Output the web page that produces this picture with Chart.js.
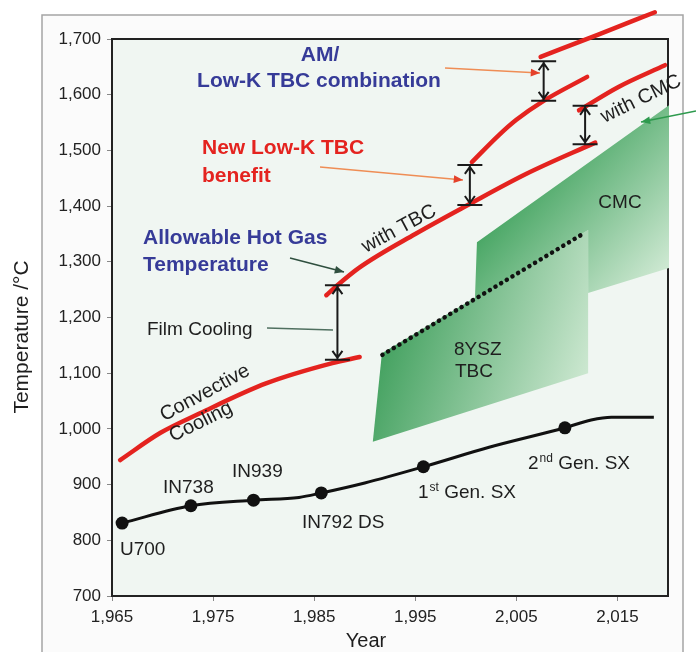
<!DOCTYPE html>
<html>
<head>
<meta charset="utf-8">
<script src="https://cdn.jsdelivr.net/npm/chart.js@4.4.1/dist/chart.umd.min.js"></script>
<style>
  body { margin: 0; background: #fff; }
  canvas { display: block; }
</style>
</head>
<body>
<canvas id="tempChart" width="696" height="652"></canvas>
<script>
// Turbine hot gas temperature vs. year
// ------------------------------
var xTickYears = [1965, 1975, 1985, 1995, 2005, 2015];

// superalloy capability (black curve + named points)
var alloyNames = ['U700', 'IN738', 'IN939', 'IN792 DS', '1st Gen. SX', '2nd Gen. SX'];
var alloyYears = [1966, 1972.8, 1979, 1985.7, 1995.8, 2009.8];
var alloyTemps = [831, 862, 872, 885, 932, 1002];
var trendYears = [1966, 1972.8, 1979, 1983.5, 1985.7, 1990, 1995.8, 2002.3, 2009.8, 2012.4, 2014.4, 2018.6];
var trendTemps = [831, 862, 872, 877, 885, 903, 932, 967, 1002, 1016, 1021, 1021];

// allowable gas temperature curves
var convYears = [1965.8, 1969.8, 1973.7, 1980.3, 1986.8, 1989.5];
var convTemps = [944, 993, 1028, 1082, 1118, 1129];
var tbcYears = [1986.2, 1987.3, 1989.5, 1995, 2000.2, 2006, 2012.8];
var tbcTemps = [1240, 1258, 1290, 1350, 1402, 1458, 1514];
var lowKYears = [2000.6, 2003.3, 2005, 2007.7, 2012];
var lowKTemps = [1479, 1528, 1555, 1589, 1632];
var cmcYears = [2011.2, 2015.1, 2019.7];
var cmcTemps = [1572, 1614, 1653];
var amYears = [2007.4, 2013.1, 2018.7];
var amTemps = [1668, 1708, 1748];

// 8YSZ trend (dotted)
var dotYears = [1991.75, 2011.85];
var dotTemps = [1133, 1353];

// shaded material zones
var yszZoneYears = [1990.8, 1991.7, 2012.1, 2012.1];
var yszZoneTemps = [977, 1136, 1357, 1100];
var cmcZoneYears = [2000.9, 2001.1, 2020.1, 2020.1, 2012.1, 2012.1];
var cmcZoneTemps = [1233, 1335, 1581, 1289, 1244, 1357];

// temperature gains (double arrows)
var gapYears = [1987.3, 2000.4, 2007.7, 2011.8];
var gapLow = [1124, 1402, 1589, 1511];
var gapHigh = [1258, 1474, 1660, 1580];

function pts(xs, ys) {
    return xs.map(function (x, i) { return {x: x, y: ys[i]}; });
}

var FONT = '"Liberation Sans", Arial, sans-serif';
var RED = '#e4231f';
var BLUE = '#363b98';

function arrow(c, x1, y1, x2, y2, col, head) {
    var ang = Math.atan2(y2 - y1, x2 - x1);
    c.strokeStyle = col; c.lineWidth = 1.6;
    c.beginPath(); c.moveTo(x1, y1); c.lineTo(x2, y2); c.stroke();
    c.fillStyle = head || col;
    c.beginPath();
    c.moveTo(x2, y2);
    c.lineTo(x2 - 10 * Math.cos(ang - 0.4), y2 - 10 * Math.sin(ang - 0.4));
    c.lineTo(x2 - 10 * Math.cos(ang + 0.4), y2 - 10 * Math.sin(ang + 0.4));
    c.closePath(); c.fill();
}

function rotText(c, txt, x, y, deg) {
    c.save();
    c.translate(x, y);
    c.rotate(deg * Math.PI / 180);
    c.fillText(txt, 0, 0);
    c.restore();
}

function zone(c, xs, ys, sx, sy, g0, g1, cols) {
    var g = c.createLinearGradient(g0[0], g0[1], g1[0], g1[1]);
    g.addColorStop(0, cols[0]); g.addColorStop(1, cols[1]);
    c.fillStyle = g;
    c.beginPath();
    xs.forEach(function (x, i) {
        var px = sx.getPixelForValue(x), py = sy.getPixelForValue(ys[i]);
        if (i === 0) c.moveTo(px, py); else c.lineTo(px, py);
    });
    c.closePath(); c.fill();
}

var annotate = {
    id: 'annotate',
    beforeDraw: function (chart) {
        var c = chart.ctx, a = chart.chartArea;
        c.save();
        c.fillStyle = '#fbfbfb';
        c.fillRect(42, 15, 641, 640);
        c.strokeStyle = '#a5a5a5'; c.lineWidth = 1.5;
        c.strokeRect(42, 15, 641, 660);
        c.fillStyle = '#f0f6f2';
        c.fillRect(a.left, a.top, a.right - a.left, a.bottom - a.top);
        c.restore();
    },
    beforeDatasetsDraw: function (chart) {
        var c = chart.ctx, a = chart.chartArea, sx = chart.scales.x, sy = chart.scales.y;
        c.save();
        c.strokeStyle = '#222'; c.lineWidth = 2;
        c.beginPath();
        c.moveTo(a.left, a.top); c.lineTo(a.right, a.top); c.lineTo(a.right, a.bottom);
        c.stroke();
        zone(c, yszZoneYears, yszZoneTemps, sx, sy, [380, 330], [590, 400], ['#3f9f5c', '#d3ebd6']);
        zone(c, cmcZoneYears, cmcZoneTemps, sx, sy, [520, 190], [640, 300], ['#48a664', '#cfe9d3']);
        c.restore();
    },
    afterDatasetsDraw: function (chart) {
        var c = chart.ctx, sx = chart.scales.x, sy = chart.scales.y;
        c.save();

        // double arrows with caps
        c.strokeStyle = '#1a1a1a'; c.lineWidth = 2;
        gapYears.forEach(function (yr, i) {
            var x = sx.getPixelForValue(yr), lo = sy.getPixelForValue(gapLow[i]), hi = sy.getPixelForValue(gapHigh[i]);
            c.beginPath();
            c.moveTo(x - 12.5, hi); c.lineTo(x + 12.5, hi);
            c.moveTo(x - 12.5, lo); c.lineTo(x + 12.5, lo);
            c.moveTo(x, hi + 1); c.lineTo(x, lo - 1);
            c.moveTo(x - 5, hi + 9); c.lineTo(x, hi + 2); c.lineTo(x + 5, hi + 9);
            c.moveTo(x - 5, lo - 9); c.lineTo(x, lo - 2); c.lineTo(x + 5, lo - 9);
            c.stroke();
        });

        // connectors
        arrow(c, 445, 68, 540, 73, '#ef8d55', '#e4412a');
        arrow(c, 320, 167, 463, 180, '#ef8d55', '#e4412a');
        arrow(c, 290, 258, 344, 272, '#2f4f3f');
        arrow(c, 696, 111, 641, 122, '#2e9a4e');
        c.strokeStyle = '#4f6f5f'; c.lineWidth = 1.6;
        c.beginPath(); c.moveTo(267, 328); c.lineTo(333, 330); c.stroke();

        // headline labels
        c.textBaseline = 'middle';
        c.font = 'bold 21px ' + FONT;
        c.fillStyle = BLUE; c.textAlign = 'center';
        c.fillText('AM/', 320, 55);
        c.fillText('Low-K TBC combination', 319, 81);
        c.textAlign = 'left';
        c.fillText('Allowable Hot Gas', 143, 238);
        c.fillText('Temperature', 143, 265);
        c.fillStyle = RED;
        c.fillText('New Low-K TBC', 202, 148);
        c.fillText('benefit', 202, 176);

        // regime labels
        c.fillStyle = '#1e1e1e';
        c.font = '19px ' + FONT;
        c.fillText('Film Cooling', 147, 330);
        c.fillText('8YSZ', 454, 350);
        c.fillText('TBC', 455, 372);
        c.textAlign = 'center';
        c.fillText('CMC', 620, 203);
        c.font = '20px ' + FONT;
        rotText(c, 'with TBC', 399, 229, -28);
        rotText(c, 'with CMC', 641, 99, -26);
        rotText(c, 'Convective', 205, 393, -28.5);
        rotText(c, 'Cooling', 201, 422, -26.5);

        // alloy labels
        c.font = '19px ' + FONT;
        c.textAlign = 'left';
        c.fillText('U700', 120, 550);
        c.fillText('IN738', 163, 488);
        c.fillText('IN939', 232, 472);
        c.fillText('IN792 DS', 302, 523);
        [['1', 'st', 418, 493], ['2', 'nd', 528, 464]].forEach(function (s) {
            var x = s[2], y = s[3];
            c.font = '19px ' + FONT;
            c.fillText(s[0], x, y);
            x += c.measureText(s[0]).width + 1;
            c.font = '12px ' + FONT;
            c.fillText(s[1], x, y - 5);
            x += c.measureText(s[1]).width;
            c.font = '19px ' + FONT;
            c.fillText(' Gen. SX', x, y);
        });

        // axis titles
        c.textAlign = 'center';
        c.font = '21px ' + FONT;
        rotText(c, 'Temperature /\u00b0C', 22, 337, -90);
        c.font = '20px ' + FONT;
        c.fillText('Year', 366, 641);
        c.restore();
    }
};

var redLine = function (xs, ys) {
    return {
        data: pts(xs, ys),
        borderColor: RED,
        borderWidth: 4.5,
        pointRadius: 0,
        cubicInterpolationMode: 'monotone',
        borderCapStyle: 'round',
        clip: false
    };
};

var chartData = {
    datasets: [
        redLine(convYears, convTemps),
        redLine(tbcYears, tbcTemps),
        redLine(lowKYears, lowKTemps),
        redLine(cmcYears, cmcTemps),
        redLine(amYears, amTemps),
        {
            data: pts(alloyYears, alloyTemps),
            showLine: false,
            pointRadius: 6.5,
            pointBackgroundColor: '#111',
            pointBorderWidth: 0
        },
        {
            data: pts(trendYears, trendTemps),
            borderColor: '#111',
            borderWidth: 3,
            pointRadius: 0,
            cubicInterpolationMode: 'monotone'
        },
        {
            data: pts(dotYears, dotTemps),
            borderColor: '#111',
            borderWidth: 4.5,
            borderDash: [0.1, 6.5],
            borderCapStyle: 'round',
            pointRadius: 0
        }
    ]
};

var tickFont = {family: FONT, size: 17};

var chartOptions = {
    responsive: false,
    animation: false,
    layout: {padding: {top: 39, right: 28, left: 0, bottom: 0}},
    plugins: {legend: {display: false}, tooltip: {enabled: false}},
    scales: {
        x: {
            type: 'linear',
            min: 1965,
            max: 2020,
            afterBuildTicks: function (s) { s.ticks = xTickYears.map(function (v) { return {value: v}; }); },
            afterFit: function (s) { s.height = 56; },
            ticks: {
                font: tickFont, color: '#222', padding: 6, maxRotation: 0,
                callback: function (v) { return v.toLocaleString('en-US'); }
            },
            grid: {drawOnChartArea: false, tickLength: 5, color: '#888'},
            border: {color: '#222', width: 2}
        },
        y: {
            min: 700,
            max: 1700,
            afterFit: function (s) { s.width = 112; },
            ticks: {
                stepSize: 100, font: tickFont, color: '#222', padding: 6,
                callback: function (v) { return v.toLocaleString('en-US'); }
            },
            grid: {drawOnChartArea: false, tickLength: 5, color: '#888'},
            border: {color: '#222', width: 2}
        }
    }
};

var ctx = document.getElementById('tempChart');
var tempChart = new Chart(ctx, {
    type: 'line',
    data: chartData,
    options: chartOptions,
    plugins: [annotate]
});
</script>
</body>
</html>
